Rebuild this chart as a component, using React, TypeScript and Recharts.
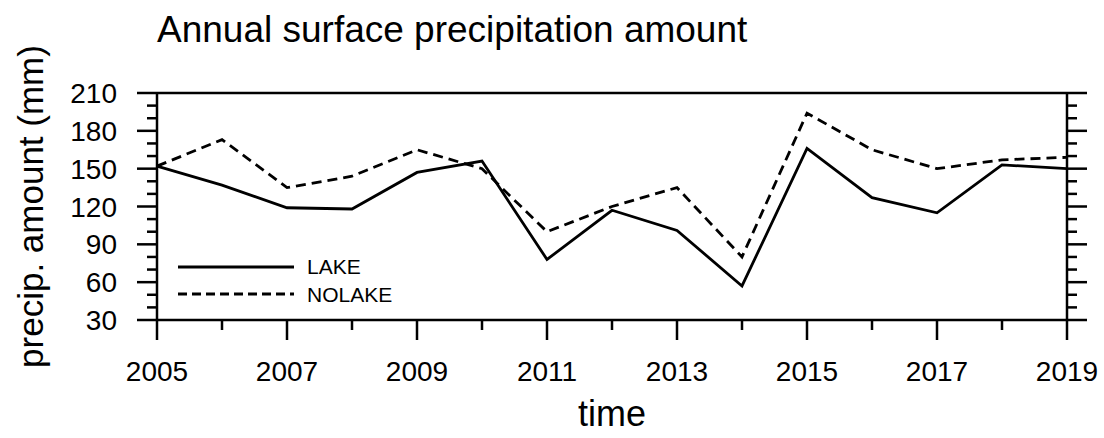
import { LineChart, Line, XAxis, YAxis, Legend, Label } from 'recharts';

const FONT = '"Liberation Sans", Arial, Helvetica, sans-serif';

// yearly totals, mm
const YEARS = [2005, 2006, 2007, 2008, 2009, 2010, 2011, 2012, 2013, 2014, 2015, 2016, 2017, 2018, 2019];
const LAKE = [152, 137, 119, 118, 147, 156, 78, 117, 101, 57, 166, 127, 115, 153, 150];
const NOLAKE = [152, 173, 135, 144, 165, 150, 100, 120, 135, 80, 194, 165, 150, 157, 159];
const Y_TICKS = [30, 40, 50, 60, 70, 80, 90, 100, 110, 120, 130, 140, 150, 160, 170, 180, 190, 200, 210];

const data = YEARS.map((year, i) => ({ year, lake: LAKE[i], nolake: NOLAKE[i] }));

const isMajorYear = (v: number) => (v - 2005) % 2 === 0;
const isMajorVal = (v: number) => (v - 30) % 30 === 0;

const AXIS_STROKE = { stroke: '#000', strokeWidth: 2.5 };

// outward tick marks, labels only on the bottom/left sides
const BottomTick = ({ x, y, payload }: any) => {
  const major = isMajorYear(payload.value);
  return (
    <g>
      <line x1={x} x2={x} y1={y} y2={y + (major ? 20 : 10)} {...AXIS_STROKE} />
      {major && (
        <text x={x} y={y + 61} textAnchor="middle" fontSize={28} fontFamily={FONT} fill="#000">
          {payload.value}
        </text>
      )}
    </g>
  );
};

const TopTick = ({ x, y, payload }: any) => {
  const major = isMajorYear(payload.value);
  return <line x1={x} x2={x} y1={y} y2={y - (major ? 20 : 10)} {...AXIS_STROKE} />;
};

const LeftTick = ({ x, y, payload }: any) => {
  const major = isMajorVal(payload.value);
  return (
    <g>
      <line x1={x} x2={x - (major ? 20 : 10)} y1={y} y2={y} {...AXIS_STROKE} />
      {major && (
        <text x={x - 40} y={y + 10} textAnchor="end" fontSize={28} fontFamily={FONT} fill="#000">
          {payload.value}
        </text>
      )}
    </g>
  );
};

const RightTick = ({ x, y, payload }: any) => {
  const major = isMajorVal(payload.value);
  return <line x1={x} x2={x + (major ? 20 : 10)} y1={y} y2={y} {...AXIS_STROKE} />;
};

const LegendBox = () => (
  <svg width={260} height={70}>
    <line x1={8} x2={124} y1={17} y2={17} stroke="#000" strokeWidth={2.8} />
    <text x={137} y={24} fontSize={21} fontFamily={FONT}>LAKE</text>
    <line x1={8} x2={124} y1={44} y2={44} stroke="#000" strokeWidth={2.8} strokeDasharray="9 5" />
    <text x={137} y={52} fontSize={21} fontFamily={FONT}>NOLAKE</text>
  </svg>
);

const App = () => {
  return (
    <div style={{ position: 'absolute', left: 0, top: 0, width: 1104, height: 438, background: '#fff', fontFamily: FONT }}>
      <div style={{ position: 'absolute', left: 157, top: 11, fontSize: 37, lineHeight: '37px', color: '#000', whiteSpace: 'nowrap' }}>
        Annual surface precipitation amount
      </div>
      <LineChart width={1104} height={438} data={data} margin={{ top: 73, right: 17, bottom: 58, left: 77 }}>
        <XAxis
          dataKey="year"
          type="number"
          domain={[2005, 2019]}
          ticks={YEARS}
          interval={0}
          tickSize={0}
          tickMargin={0}
          tickLine={false}
          tick={<BottomTick />}
          axisLine={AXIS_STROKE}
          height={60}
        >
          <Label
            content={({ viewBox }: any) => (
              <text x={viewBox.x + viewBox.width / 2} y={viewBox.y + 106} textAnchor="middle" fontSize={36} fontFamily={FONT} fill="#000">
                time
              </text>
            )}
          />
        </XAxis>
        <XAxis
          xAxisId="top"
          orientation="top"
          type="number"
          domain={[2005, 2019]}
          ticks={YEARS}
          interval={0}
          tickSize={0}
          tickMargin={0}
          tickLine={false}
          tick={<TopTick />}
          axisLine={AXIS_STROKE}
          height={20}
          allowDataOverflow
        />
        <YAxis
          type="number"
          domain={[30, 210]}
          ticks={Y_TICKS}
          interval={0}
          tickSize={0}
          tickMargin={0}
          tickLine={false}
          tick={<LeftTick />}
          axisLine={AXIS_STROKE}
          width={80}
        >
          <Label
            content={({ viewBox }: any) => {
              const cx = viewBox.x - 34;
              const cy = viewBox.y + viewBox.height / 2;
              return (
                <text x={cx} y={cy} transform={`rotate(-90, ${cx}, ${cy})`} textAnchor="middle" fontSize={35} fontFamily={FONT} fill="#000">
                  precip. amount (mm)
                </text>
              );
            }}
          />
        </YAxis>
        <YAxis
          yAxisId="right"
          orientation="right"
          type="number"
          domain={[30, 210]}
          ticks={Y_TICKS}
          interval={0}
          tickSize={0}
          tickMargin={0}
          tickLine={false}
          tick={<RightTick />}
          axisLine={AXIS_STROKE}
          width={20}
          allowDataOverflow
        />
        <Legend
          layout="vertical"
          align="center"
          verticalAlign="middle"
          content={<LegendBox />}
          wrapperStyle={{ left: 170, top: 250, width: 260, height: 70 }}
        />
        <Line dataKey="lake" name="LAKE" stroke="#000" strokeWidth={2.8} dot={false} isAnimationActive={false} />
        <Line dataKey="nolake" name="NOLAKE" stroke="#000" strokeWidth={2.8} strokeDasharray="10 6" dot={false} isAnimationActive={false} />
      </LineChart>
    </div>
  );
};

export default App;
